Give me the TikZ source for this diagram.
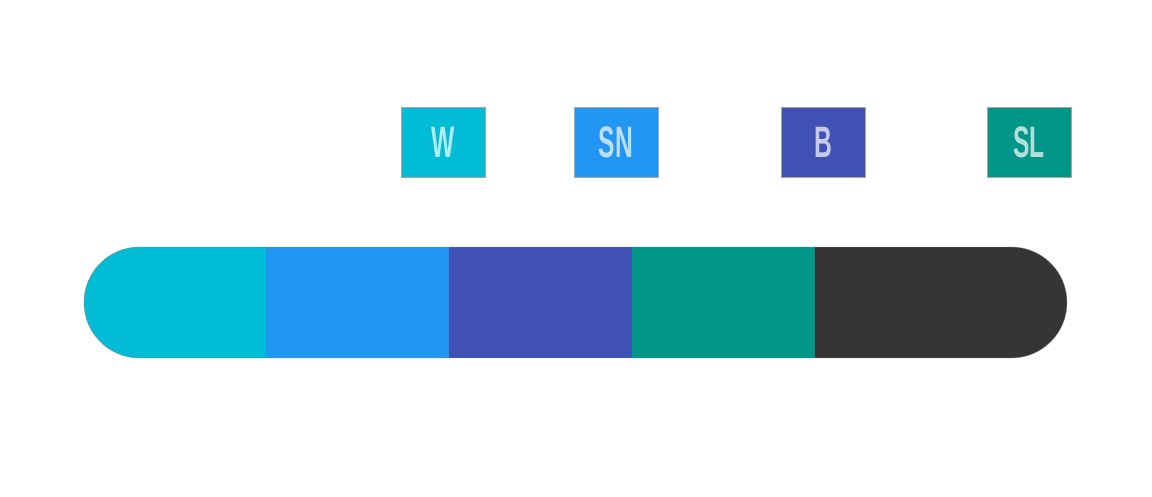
\documentclass[tikz,border=0pt]{standalone}
\usepackage{fontspec}
\setmainfont{Liberation Sans}
\usepackage{graphicx}
\usetikzlibrary{positioning}
\definecolor{mcyan}{HTML}{00BCD4}
\definecolor{mblue}{HTML}{2196F3}
\definecolor{mindigo}{HTML}{3F51B5}
\definecolor{mteal}{HTML}{009688}
\definecolor{mdark}{HTML}{353535}
\definecolor{tcyan}{HTML}{B2EBF2}
\definecolor{tblue}{HTML}{BBDEFB}
\definecolor{tindigo}{HTML}{C5CAE9}
\definecolor{tteal}{HTML}{B2DFDB}
\tikzset{
  tag/.style={draw=black!35, line width=0.4pt, minimum width=84pt, minimum height=70pt, inner sep=0pt, font=\fontsize{44}{44}\selectfont\bfseries},
  seg/.style={minimum height=111pt, inner sep=0pt, outer sep=0pt, anchor=west}
}
\newcommand{\cond}[1]{\raisebox{-3pt}{\scalebox{0.56}[1]{#1}}}

\begin{document}
\begin{tikzpicture}[x=1pt, y=1pt]
  \useasboundingbox (0,0) rectangle (1152,497);
  \begin{scope}
    \clip[rounded corners=55.5pt] (84,139) rectangle (1067,250);
    \node (s1) [seg, fill=mcyan, minimum width=182pt] at (84,194.5) {};
    \node (s2) [seg, fill=mblue, minimum width=183pt, right=0pt of s1] {};
    \node (s3) [seg, fill=mindigo, minimum width=183pt, right=0pt of s2] {};
    \node (s4) [seg, fill=mteal, minimum width=183pt, right=0pt of s3] {};
    \node (s5) [seg, fill=mdark, minimum width=260pt, right=0pt of s4] {};
  \end{scope}
  \draw[black!45, line width=0.4pt, rounded corners=55.5pt] (84,139) rectangle (1067,250);
  \node (w) [tag, fill=mcyan, text=tcyan] at (443,355) {\cond{W}};
  \node (sn) [tag, fill=mblue, text=tblue] at (616,355) {\cond{SN}};
  \node (b) [tag, fill=mindigo, text=tindigo] at (823,355) {\cond{B}};
  \node (sl) [tag, fill=mteal, text=tteal] at (1029,355) {\cond{SL}};
\end{tikzpicture}
\end{document}
